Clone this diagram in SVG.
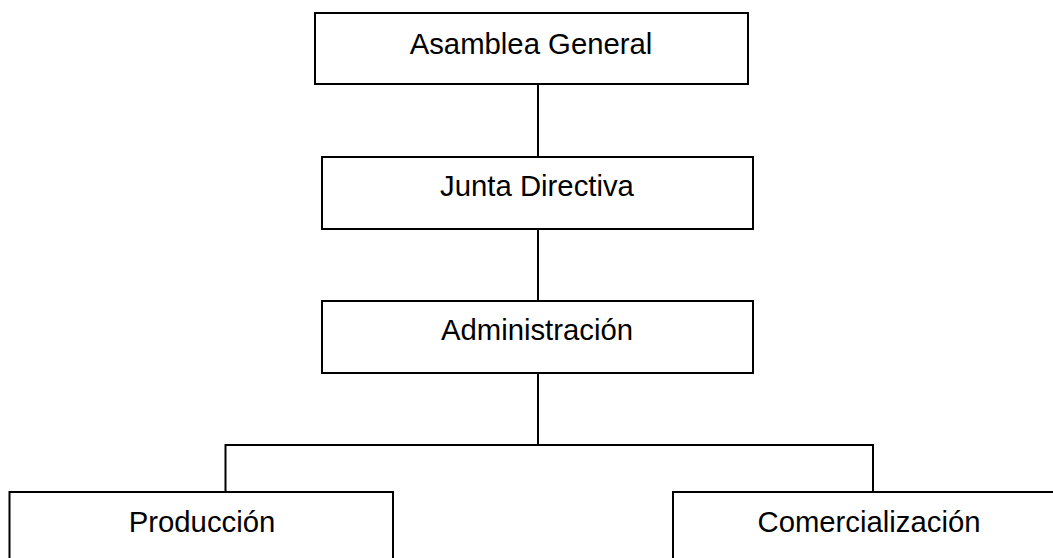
<svg xmlns="http://www.w3.org/2000/svg" width="1053" height="558" viewBox="0 0 1053 558">
<style>
.box{fill:#fff;stroke:#000;stroke-width:2}
.lbl{font-family:"Liberation Sans",Arial,sans-serif;font-size:29.3px;fill:#000;text-anchor:middle}
.con{fill:none;stroke:#000;stroke-width:2}
</style>
<rect width="1053" height="558" fill="#fff"/>
<g id="connectors">
<line class="con" x1="538" y1="84" x2="538" y2="157"/>
<line class="con" x1="538" y1="229" x2="538" y2="301"/>
<line class="con" x1="538" y1="373" x2="538" y2="445"/>
<polyline class="con" points="225.5,492 225.5,445 873,445 873,492"/>
</g>
<g id="asamblea">
<rect class="box" x="315" y="13" width="433" height="71"/>
<text class="lbl" x="531" y="53.5">Asamblea General</text>
</g>
<g id="junta">
<rect class="box" x="322" y="157" width="431" height="72"/>
<text class="lbl" x="537" y="195.5">Junta Directiva</text>
</g>
<g id="administracion">
<rect class="box" x="322" y="301" width="431" height="72"/>
<text class="lbl" x="537" y="339.5">Administración</text>
</g>
<g id="produccion">
<rect class="box" x="9.5" y="492" width="383.5" height="80"/>
<text class="lbl" x="202" y="531.5">Producción</text>
</g>
<g id="comercializacion">
<rect class="box" x="673" y="492" width="391" height="80"/>
<text class="lbl" x="869" y="531.5">Comercialización</text>
</g>
</svg>
